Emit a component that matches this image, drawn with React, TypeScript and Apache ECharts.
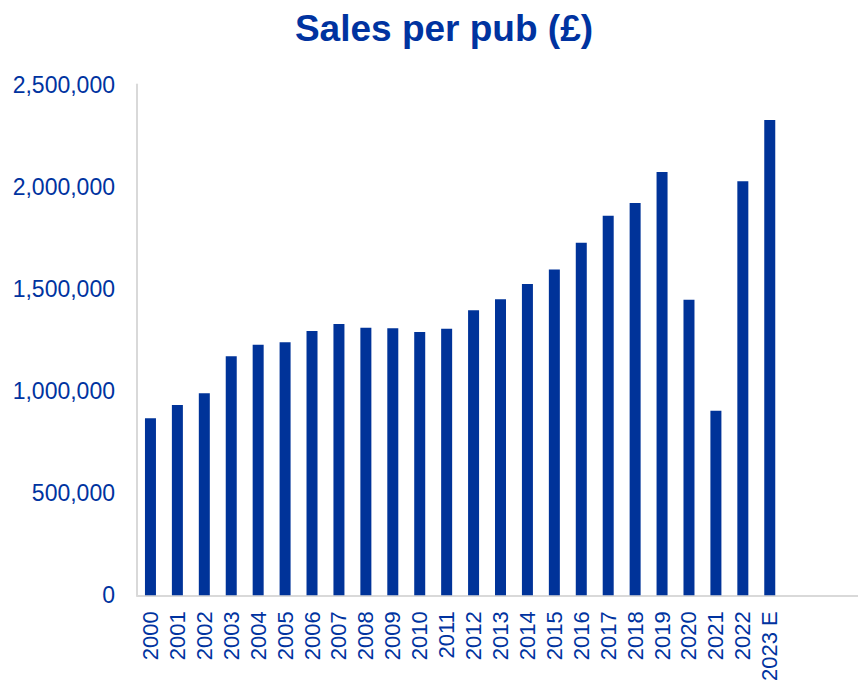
import React, { useEffect, useRef } from "react";
import * as echarts from "echarts";

const categories: string[] = [
  "2000", "2001", "2002", "2003", "2004", "2005", "2006", "2007", "2008", "2009",
  "2010", "2011", "2012", "2013", "2014", "2015", "2016", "2017", "2018", "2019",
  "2020", "2021", "2022", "2023 E", "", "", "",
];

const salesPerPub: (number | null)[] = [
  867000, 931000, 989000, 1170000, 1226000, 1239000, 1293000, 1328000, 1309000, 1307000,
  1289000, 1304000, 1395000, 1449000, 1523000, 1594000, 1726000, 1858000, 1920000, 2072000,
  1447000, 903000, 2026000, 2326000, null, null, null,
];

const yTicks = { min: 0, max: 2500000, interval: 500000 };

const titleText = "Sales per pub (£)";

const BLUE = "#0033A0";
const FONT = "Liberation Sans, Arial, Helvetica, sans-serif";

export default function App() {
  const ref = useRef<HTMLDivElement>(null);

  useEffect(() => {
    if (!ref.current) return;
    const chart = echarts.init(ref.current, null, { renderer: "svg" });
    chart.setOption({
      animation: false,
      backgroundColor: "#ffffff",
      graphic: [
        {
          type: "text",
          x: 444,
          y: 28,
          style: {
            text: titleText,
            fill: BLUE,
            font: `bold 37px ${FONT}`,
            textAlign: "center",
            textVerticalAlign: "middle",
          },
        },
      ],
      grid: { left: 137, top: 84.5, width: 727, height: 511, containLabel: false },
      xAxis: {
        type: "category",
        data: categories,
        axisLine: { show: true, lineStyle: { color: "#d9d9d9", width: 2 } },
        axisTick: { show: false },
        axisLabel: {
          interval: 0,
          rotate: 90,
          margin: 16,
          color: BLUE,
          fontSize: 22,
          fontFamily: FONT,
        },
        splitLine: { show: false },
      },
      yAxis: {
        type: "value",
        min: yTicks.min,
        max: yTicks.max,
        interval: yTicks.interval,
        axisLine: { show: true, lineStyle: { color: "#d9d9d9", width: 2 } },
        axisTick: { show: false },
        splitLine: { show: false },
        axisLabel: {
          margin: 22,
          color: BLUE,
          fontSize: 23,
          fontFamily: FONT,
          formatter: (v: number) => v.toLocaleString("en-GB"),
        },
      },
      series: [
        {
          type: "bar",
          data: salesPerPub,
          barWidth: 11,
          itemStyle: { color: "#003399" },
        },
      ],
    });
    return () => chart.dispose();
  }, []);

  return (
    <div
      style={{
        position: "absolute",
        left: 0,
        top: 0,
        width: 858,
        height: 684,
        overflow: "hidden",
        background: "#ffffff",
      }}
    >
      <div ref={ref} style={{ width: 870, height: 684 }} />
    </div>
  );
}
